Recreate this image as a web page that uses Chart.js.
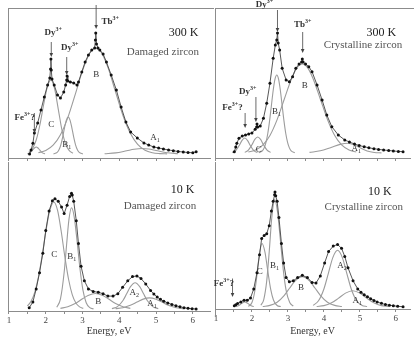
<!DOCTYPE html>
<html>
<head>
<meta charset="utf-8">
<script src="https://cdn.jsdelivr.net/npm/chart.js@4.4.1/dist/chart.umd.min.js"></script>
<style>
  body { margin: 0; background: #fff; }
  #fig { position: relative; width: 414px; height: 339px; overflow: hidden; background: #fff; }
  #fig canvas { position: absolute; }
</style>
</head>
<body>
<div id="fig">
  <canvas id="tl" width="214" height="166" style="left:0;top:0"></canvas>
  <canvas id="tr" width="203" height="166" style="left:211px;top:0"></canvas>
  <canvas id="bl" width="214" height="181" style="left:0;top:158px"></canvas>
  <canvas id="br" width="203" height="181" style="left:211px;top:158px"></canvas>
</div>
<script>
// tick labels on the energy axis
const majorTicks = [1, 2, 3, 4, 5, 6];

// ---- 300 K, damaged zircon (measured points) ----
const tlEnergy = [1.56, 1.60, 1.65, 1.69, 1.78, 1.87, 1.96, 2.05, 2.11, 2.13, 2.14, 2.15, 2.17, 2.23, 2.32, 2.40, 2.49, 2.54, 2.57, 2.58, 2.60, 2.67, 2.76, 2.85, 2.89, 2.98, 3.07, 3.16, 3.25, 3.33, 3.35, 3.36, 3.38, 3.42, 3.47, 3.56, 3.65, 3.78, 3.92, 4.05, 4.18, 4.31, 4.49, 4.67, 4.80, 4.94, 5.07, 5.20, 5.34, 5.47, 5.60, 5.74, 5.87, 6.00, 6.09];
const tlIntensity = [0, 4, 10.7, 21, 31, 44, 57, 69, 76, 85, 95, 84, 75, 69, 59, 56, 62, 69, 74, 78, 73, 72, 71, 69, 72, 82, 92, 99, 104, 106, 114, 121, 110, 106, 104, 100, 92, 79, 64, 47, 32, 22, 16, 11, 9, 7, 6, 5, 4, 3.3, 2.5, 2, 1.5, 1.3, 2.3];
// fitted bands
const tlFeE = [1.50, 1.58, 1.64, 1.70, 1.74, 1.78, 1.84, 1.90, 1.98];
const tlFeI = [0, 1.4, 3.8, 6.3, 7, 6.3, 3.8, 1.4, 0.2];
const tlCE = [1.54, 1.64, 1.74, 1.84, 1.94, 2.04, 2.14, 2.24, 2.34, 2.44, 2.54, 2.64, 2.74];
const tlCI = [1.8, 5.6, 14, 29, 49, 66.7, 74, 65.3, 44.9, 24, 10, 3.3, 0.8];
const tlB1E = [2.21, 2.31, 2.36, 2.41, 2.46, 2.51, 2.56, 2.61, 2.66, 2.71, 2.76, 2.81, 2.86, 2.91, 3.01];
const tlB1I = [0.1, 1.6, 4.2, 9.2, 16.9, 26.2, 33.9, 37, 33.9, 26.2, 16.9, 9.2, 4.2, 1.6, 0.1];
const tlBE = [1.8, 2.0, 2.2, 2.4, 2.6, 2.8, 3.0, 3.2, 3.36, 3.5, 3.7, 3.9, 4.1, 4.3, 4.5, 4.7, 4.9, 5.1, 5.3];
const tlBI = [1.2, 3.5, 8.8, 19.3, 36.4, 59.4, 83.4, 101, 106, 102.2, 85.6, 61.8, 38.5, 20.7, 9.6, 3.8, 1.3, 0.4, 0.1];
const tlA1E = [3.6, 3.9, 4.2, 4.4, 4.62, 4.8, 5.0, 5.3, 5.6];
const tlA1I = [0.2, 1.1, 3.2, 4.7, 5.5, 5.0, 3.5, 1.3, 0.3];

// ---- 300 K, crystalline zircon ----
const trEnergy = [1.51, 1.55, 1.58, 1.64, 1.73, 1.82, 1.91, 2.00, 2.09, 2.13, 2.14, 2.16, 2.23, 2.32, 2.41, 2.50, 2.59, 2.65, 2.69, 2.71, 2.73, 2.77, 2.84, 2.95, 3.04, 3.13, 3.22, 3.31, 3.38, 3.40, 3.42, 3.49, 3.58, 3.67, 3.81, 3.95, 4.08, 4.22, 4.40, 4.58, 4.71, 4.85, 4.98, 5.12, 5.25, 5.39, 5.52, 5.66, 5.80, 5.93, 6.07, 6.20];
const trIntensity = [1.3, 6, 9.7, 14.7, 17, 18, 19, 20, 23.7, 26, 29, 26, 27, 34.7, 49.7, 69.7, 94.7, 108, 113, 120, 110, 103, 84.7, 73, 71.3, 76.3, 84.7, 89, 91, 94, 91, 89, 86.3, 81.3, 68, 53, 38, 26.3, 18, 13, 11, 9, 7.5, 6.3, 5.2, 4.3, 3.6, 3, 2.5, 2, 1.6, 1.3];
const trFeE = [1.45, 1.55, 1.65, 1.72, 1.80, 1.88, 1.95, 2.05, 2.15];
const trFeI = [0.4, 2.4, 7.7, 12.4, 15, 12.4, 7.7, 2.4, 0.4];
const trCE = [1.80, 1.90, 2.00, 2.08, 2.16, 2.24, 2.32, 2.42, 2.52];
const trCI = [0.6, 2.9, 8.3, 13.6, 16, 13.6, 8.3, 2.9, 0.6];
const trB1E = [2.19, 2.29, 2.34, 2.39, 2.44, 2.49, 2.54, 2.59, 2.64, 2.69, 2.74, 2.79, 2.84, 2.89, 2.94, 2.99, 3.04, 3.09, 3.19];
const trB1I = [0.3, 2.2, 5.1, 10.6, 19.5, 32.1, 47.3, 62.5, 73.8, 78, 73.8, 62.5, 47.3, 32.1, 19.5, 10.6, 5.1, 2.2, 0.3];
const trBE = [1.9, 2.1, 2.3, 2.5, 2.7, 2.9, 3.1, 3.25, 3.4, 3.55, 3.7, 3.9, 4.1, 4.3, 4.5, 4.7, 4.9];
const trBI = [1.0, 3.0, 7.9, 17.6, 33.4, 54, 74.3, 85.1, 89, 85.1, 74.3, 54, 33.4, 17.6, 7.9, 3.0, 1.0];
const trA1E = [3.6, 3.9, 4.2, 4.45, 4.67, 4.85, 5.0, 5.2, 5.4, 5.6];
const trA1I = [0.6, 2.2, 5.6, 8.6, 9.7, 8.1, 5.3, 2.0, 0.5, 0.1];

// ---- 10 K, damaged zircon ----
const blEnergy = [1.55, 1.65, 1.74, 1.83, 1.92, 2.00, 2.09, 2.18, 2.25, 2.34, 2.43, 2.50, 2.58, 2.65, 2.70, 2.72, 2.76, 2.83, 2.89, 2.96, 3.05, 3.16, 3.29, 3.43, 3.56, 3.69, 3.83, 3.96, 4.09, 4.23, 4.36, 4.48, 4.59, 4.72, 4.85, 4.94, 5.03, 5.12, 5.21, 5.32, 5.43, 5.54, 5.65, 5.76, 5.87, 5.98, 6.09];
const blIntensity = [1.3, 7.3, 20.7, 37.3, 57.3, 80.7, 100.7, 111.3, 113.3, 110.7, 104.7, 98, 106.7, 115.7, 119, 117, 110.7, 90.7, 67.3, 44, 29, 20.7, 18, 17.3, 15.7, 13.3, 13.3, 15.7, 22.3, 29, 33.3, 34, 31.3, 25.7, 19, 15.5, 12.3, 10, 8, 6.2, 4.7, 3.4, 2.3, 1.4, 0.7, 0.3, 0];
const blCE = [1.5, 1.6, 1.7, 1.8, 1.9, 2.0, 2.1, 2.22, 2.32, 2.42, 2.52, 2.62, 2.72, 2.82, 2.92, 3.02];
const blCI = [3.1, 7.9, 17.2, 32.8, 54.5, 78.9, 99.7, 110, 101.5, 79.9, 53.5, 30.6, 14.9, 6.2, 2.2, 0.7];
const blB1E = [2.3, 2.4, 2.5, 2.57, 2.63, 2.7, 2.77, 2.85, 2.93, 3.01, 3.1, 3.2, 3.3];
const blB1I = [1.8, 10.4, 37.5, 67.6, 91.8, 104, 95.5, 70.5, 41.7, 19.7, 6.5, 1.4, 0.2];
const blBE = [2.4, 2.6, 2.8, 3.0, 3.15, 3.35, 3.55, 3.7, 3.9, 4.1, 4.3];
const blBI = [0.7, 2.3, 5.6, 10.5, 13.9, 16, 13.9, 10.5, 5.6, 2.3, 0.7];
const blA2E = [3.8, 3.95, 4.1, 4.2, 4.3, 4.43, 4.56, 4.66, 4.76, 4.91, 5.06];
const blA2I = [0.4, 2.5, 8.8, 15.6, 22.7, 27, 22.7, 15.6, 8.8, 2.5, 0.4];
const blA1E = [3.9, 4.1, 4.3, 4.5, 4.65, 4.82, 5.0, 5.15, 5.35, 5.55, 5.75];
const blA1I = [0.4, 1.4, 3.8, 7.6, 10.2, 11.5, 10.1, 7.4, 3.7, 1.3, 0.3];

// ---- 10 K, crystalline zircon ----
const brEnergy = [1.51, 1.55, 1.60, 1.69, 1.78, 1.87, 1.96, 2.05, 2.14, 2.21, 2.27, 2.34, 2.41, 2.48, 2.54, 2.59, 2.63, 2.64, 2.66, 2.70, 2.75, 2.82, 2.88, 2.95, 3.04, 3.15, 3.27, 3.40, 3.54, 3.67, 3.78, 3.90, 4.02, 4.13, 4.26, 4.38, 4.49, 4.58, 4.67, 4.81, 4.94, 5.03, 5.12, 5.21, 5.30, 5.39, 5.48, 5.60, 5.71, 5.82, 5.93, 6.05, 6.20];
const brIntensity = [1, 2, 3.3, 5, 6.7, 6.7, 9, 18.3, 35, 53.3, 70, 73.3, 75, 83.3, 98.3, 108.3, 115, 118, 114, 108.3, 91.7, 65, 45, 30, 25.7, 26.7, 30, 32.3, 30, 25, 24.3, 31.7, 45, 56.7, 62.3, 64, 60, 51.7, 40, 26.7, 18.3, 15, 12.3, 10.2, 8.3, 6.5, 5, 3.5, 2.3, 1.6, 1, 0.5, 0];
const brFeE = [1.55, 1.65, 1.72, 1.80, 1.88, 1.95, 2.05];
const brFeI = [0.2, 1.6, 3.6, 5, 3.6, 1.6, 0.2];
const brCE = [1.9, 2.0, 2.08, 2.14, 2.2, 2.28, 2.36, 2.44, 2.52, 2.6, 2.7, 2.8];
const brCI = [0.4, 4.3, 16.2, 32.9, 52, 65, 56.4, 36.8, 18.1, 6.7, 1.3, 0.2];
const brB1E = [2.25, 2.33, 2.41, 2.48, 2.55, 2.63, 2.71, 2.79, 2.87, 2.95, 3.05, 3.15];
const brB1I = [1.6, 7.7, 26.3, 56.5, 91, 110, 97.8, 68.7, 38.2, 16.8, 4.3, 0.8];
const brBE = [2.3, 2.5, 2.7, 2.9, 3.05, 3.2, 3.4, 3.6, 3.75, 3.9, 4.1, 4.3, 4.5];
const brBI = [0.3, 1.4, 4.7, 11.8, 19.3, 26.6, 31, 26.6, 19.3, 11.8, 4.7, 1.4, 0.3];
const brA2E = [3.7, 3.85, 4.0, 4.12, 4.25, 4.38, 4.51, 4.64, 4.76, 4.91, 5.06, 5.2];
const brA2I = [1.4, 6.1, 18.3, 33.8, 50.7, 58, 50.7, 33.8, 18.3, 6.1, 1.4, 0.3];
const brA1E = [3.8, 4.0, 4.2, 4.4, 4.6, 4.8, 5.0, 5.2, 5.4, 5.6, 5.8];
const brA1I = [0.3, 1.2, 3.8, 8.6, 14, 16.5, 14, 8.6, 3.8, 1.2, 0.3];

const SERIF = '"Liberation Serif", "Times New Roman", serif';
const FRAME = '#8c8c8c';

const pts = (E, I) => E.map((e, i) => ({ x: e, y: I[i] }));

function measured(E, I) {
  return {
    data: pts(E, I), showLine: true, borderColor: '#444', borderWidth: 0.9,
    pointRadius: 1.5, pointBackgroundColor: '#111', pointBorderWidth: 0, order: 0
  };
}
function band(E, I) {
  return {
    data: pts(E, I), showLine: true, borderColor: '#9c9c9c', borderWidth: 1.1,
    pointRadius: 0, cubicInterpolationMode: 'monotone', order: 1
  };
}

// text label with optional superscript / subscript
function drawNote(ctx, px, py, n) {
  const size = n.size || 9;
  const w = n.bold ? 'bold ' : '';
  const big = `${w}${size}px ${SERIF}`;
  const small = `${w}${Math.round(size * 0.68)}px ${SERIF}`;
  ctx.font = big;
  const w1 = ctx.measureText(n.t).width;
  const w3 = n.after ? ctx.measureText(n.after).width : 0;
  ctx.font = small;
  const w2 = (n.sup || n.sub) ? ctx.measureText(n.sup || n.sub).width : 0;
  const total = w1 + w2 + w3;
  const x0 = n.align === 'right' ? px - total : px - total / 2;
  ctx.fillStyle = n.color || '#333';
  ctx.textAlign = 'left';
  ctx.textBaseline = 'middle';
  ctx.font = big;
  ctx.fillText(n.t, x0, py);
  ctx.font = small;
  if (n.sup) ctx.fillText(n.sup, x0 + w1, py - size * 0.38);
  if (n.sub) ctx.fillText(n.sub, x0 + w1, py + size * 0.32);
  if (n.after) { ctx.font = big; ctx.fillText(n.after, x0 + w1 + w2, py); }
}

const figurePlugin = {
  id: 'figure',
  afterDatasetsDraw(chart, args, opts) {
    const { ctx, chartArea: a, scales: { x, y } } = chart;
    ctx.save();
    ctx.strokeStyle = FRAME;
    ctx.lineWidth = 1;
    ctx.beginPath();
    ctx.moveTo(a.left + 0.5, a.top);
    ctx.lineTo(a.left + 0.5, a.bottom + (opts.extend || 0));
    if (opts.topLine) {
      ctx.moveTo(a.left, a.top + 0.5);
      ctx.lineTo(chart.width, a.top + 0.5);
    }
    ctx.stroke();

    ctx.strokeStyle = '#444';
    ctx.fillStyle = '#444';
    ctx.lineWidth = 0.8;
    (opts.arrows || []).forEach(ar => {
      const px = x.getPixelForValue(ar.x);
      const p1 = y.getPixelForValue(ar.y1);
      const p2 = y.getPixelForValue(ar.y2);
      ctx.beginPath();
      ctx.moveTo(px, p1);
      ctx.lineTo(px, p2 - 3);
      ctx.stroke();
      ctx.beginPath();
      ctx.moveTo(px - 1.8, p2 - 4);
      ctx.lineTo(px + 1.8, p2 - 4);
      ctx.lineTo(px, p2);
      ctx.closePath();
      ctx.fill();
    });
    (opts.notes || []).forEach(n => drawNote(ctx, x.getPixelForValue(n.x), y.getPixelForValue(n.y), n));
    ctx.restore();
  }
};

function makePanel(id, p) {
  new Chart(document.getElementById(id), {
    type: 'scatter',
    data: { datasets: p.datasets },
    options: {
      responsive: false,
      animation: false,
      events: [],
      layout: { padding: { left: p.padLeft, top: p.padTop, right: 0, bottom: 0 } },
      plugins: {
        legend: { display: false },
        tooltip: { enabled: false },
        figure: { topLine: p.topLine, extend: p.extend, notes: p.notes, arrows: p.arrows }
      },
      scales: {
        x: {
          type: 'linear', min: p.xMin, max: p.xMax,
          afterFit: s => { s.height = p.axisH; },
          border: { display: true, color: FRAME, width: 1 },
          grid: { drawOnChartArea: false, drawTicks: true, tickLength: 3, color: FRAME },
          ticks: {
            display: p.labels, stepSize: 0.5, includeBounds: false, autoSkip: false,
            maxRotation: 0, padding: 1, color: '#444',
            font: { family: SERIF, size: 9 },
            callback: v => majorTicks.includes(v) ? String(v) : ''
          },
          title: {
            display: p.labels, text: 'Energy, eV', color: '#333',
            font: { family: SERIF, size: 10 }, padding: { top: 0, bottom: 2 }
          }
        },
        y: { type: 'linear', display: false, min: p.yMin, max: p.yMax }
      }
    },
    plugins: [figurePlugin]
  });
}

const titleK = { size: 12, align: 'right', color: '#222' };
const titleS = { size: 11, align: 'right', color: '#555' };

makePanel('tl', {
  padLeft: 8, padTop: 8, axisH: 8, labels: false, topLine: true, extend: 0,
  xMin: 0.973, xMax: 6.467, yMin: -4, yMax: 146,
  datasets: [measured(tlEnergy, tlIntensity), band(tlFeE, tlFeI), band(tlCE, tlCI), band(tlB1E, tlB1I), band(tlBE, tlBI), band(tlA1E, tlA1I)],
  arrows: [{ x: 2.15, y1: 112, y2: 97 }, { x: 2.57, y1: 97, y2: 79 }, { x: 3.37, y1: 149, y2: 125 }, { x: 1.69, y1: 41, y2: 21 }],
  notes: [
    { x: 2.2, y: 121, t: 'Dy', sup: '3+', bold: true },
    { x: 2.65, y: 106, t: 'Dy', sup: '3+', bold: true },
    { x: 3.75, y: 132, t: 'Tb', sup: '3+', bold: true },
    { x: 1.43, y: 36, t: 'Fe', sup: '3+', after: '?', bold: true },
    { x: 2.15, y: 29, t: 'C' },
    { x: 2.57, y: 9, t: 'B', sub: '1' },
    { x: 3.37, y: 79, t: 'B' },
    { x: 4.97, y: 16, t: 'A', sub: '1' },
    Object.assign({ x: 6.15, y: 121, t: '300 K' }, titleK),
    Object.assign({ x: 6.17, y: 102, t: 'Damaged zircon' }, titleS)
  ]
});

makePanel('tr', {
  padLeft: 3, padTop: 8, axisH: 8, labels: false, topLine: true, extend: 0,
  xMin: 0.973, xMax: 6.393, yMin: -5, yMax: 145,
  datasets: [measured(trEnergy, trIntensity), band(trFeE, trFeI), band(trCE, trCI), band(trB1E, trB1I), band(trBE, trBI), band(trA1E, trA1I)],
  arrows: [{ x: 2.71, y1: 143, y2: 121 }, { x: 3.41, y1: 121, y2: 100 }, { x: 2.11, y1: 56, y2: 31 }, { x: 1.81, y1: 40, y2: 25 }],
  notes: [
    { x: 2.35, y: 148, t: 'Dy', sup: '3+', bold: true },
    { x: 3.41, y: 128, t: 'Tb', sup: '3+', bold: true },
    { x: 1.88, y: 61, t: 'Dy', sup: '3+', bold: true },
    { x: 1.46, y: 45, t: 'Fe', sup: '3+', after: '?', bold: true },
    { x: 2.68, y: 41, t: 'B', sub: '1' },
    { x: 3.47, y: 67, t: 'B' },
    { x: 2.19, y: 3, t: 'C' },
    { x: 4.9, y: 4, t: 'A', sub: '1' },
    Object.assign({ x: 6.01, y: 120, t: '300 K' }, titleK),
    Object.assign({ x: 6.18, y: 108, t: 'Crystalline zircon' }, titleS)
  ]
});

makePanel('bl', {
  padLeft: 8, padTop: 0, axisH: 28, labels: true, topLine: false, extend: 0,
  xMin: 0.973, xMax: 6.467, yMin: -2, yMax: 151,
  datasets: [measured(blEnergy, blIntensity), band(blCE, blCI), band(blB1E, blB1I), band(blBE, blBI), band(blA2E, blA2I), band(blA1E, blA1I)],
  arrows: [],
  notes: [
    { x: 2.23, y: 56, t: 'C' },
    { x: 2.71, y: 54, t: 'B', sub: '1' },
    { x: 3.43, y: 8, t: 'B' },
    { x: 4.41, y: 17, t: 'A', sub: '2' },
    { x: 4.89, y: 6, t: 'A', sub: '1' },
    Object.assign({ x: 6.04, y: 122, t: '10 K' }, titleK),
    Object.assign({ x: 6.09, y: 106, t: 'Damaged zircon' }, titleS)
  ]
});

makePanel('br', {
  padLeft: 3, padTop: 0, axisH: 30, labels: true, topLine: false, extend: 8,
  xMin: 0.973, xMax: 6.393, yMin: -2.3, yMax: 148.7,
  datasets: [measured(brEnergy, brIntensity), band(brFeE, brFeI), band(brCE, brCI), band(brB1E, brB1I), band(brBE, brBI), band(brA2E, brA2I), band(brA1E, brA1I)],
  arrows: [{ x: 1.46, y1: 29, y2: 10 }],
  notes: [
    { x: 2.22, y: 36, t: 'C' },
    { x: 2.63, y: 42, t: 'B', sub: '1' },
    { x: 3.36, y: 20, t: 'B' },
    { x: 4.5, y: 42, t: 'A', sub: '2' },
    { x: 4.93, y: 6, t: 'A', sub: '1' },
    { x: 1.22, y: 24, t: 'Fe', sup: '3+', after: '?', bold: true },
    Object.assign({ x: 5.88, y: 118, t: '10 K' }, titleK),
    Object.assign({ x: 6.2, y: 102, t: 'Crystalline zircon' }, titleS)
  ]
});
</script>
</body>
</html>
